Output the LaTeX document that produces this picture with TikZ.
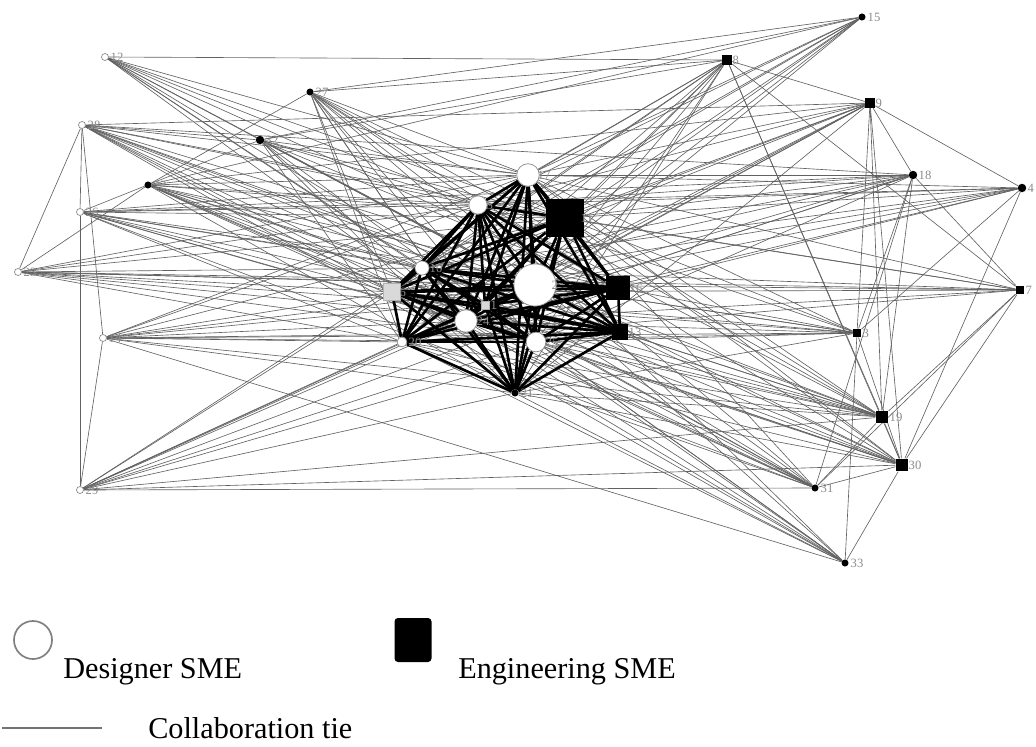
\documentclass[tikz,border=0pt]{standalone}
\usepackage{fontspec}
\setmainfont{Liberation Serif}
\pgfdeclarelayer{background}
\pgfsetlayers{background,main}
\begin{document}
\begin{tikzpicture}[x=0.025cm,y=-0.025cm,
  tie/.style={draw=black!62,line width=0.45pt},
  coretie/.style={draw=black,line width=1.9pt},
  designer/.style={circle,draw=black!45,fill=white,line width=0.5pt,inner sep=0pt,minimum size=#1},
  engineer/.style={rectangle,fill=black,inner sep=0pt,minimum size=#1},
  lightbox/.style={rectangle,fill=black!15,draw=black!30,inner sep=0pt,minimum size=#1},
  dot/.style={circle,fill=black,inner sep=0pt,minimum size=#1},
  lbl/.style={font=\fontsize{9}{10}\selectfont,text=black!45,inner sep=1pt},
  legendtext/.style={font=\fontsize{21.5}{26}\selectfont,inner sep=0pt,anchor=base west}]
\useasboundingbox (0,0) rectangle (1036,747);

% core actors
\node[designer=16] (n17) at (528,175) {};
\node[designer=13] (n5) at (478,205) {};
\node[engineer=27] (n11) at (565,218) {};
\node[designer=30] (n2) at (535,285) {};
\node[engineer=17] (n16) at (618,288) {};
\node[designer=10] (n10) at (422,268) {};
\node[lightbox=12] (n6) at (392,292) {};
\node[lightbox=6] (n1) at (485,305) {};
\node[designer=16] (n24) at (466,321) {};
\node[designer=7] (n20) at (402,342) {};
\node[engineer=11] (n13) at (620,332) {};
\node[designer=14] (n25) at (536,342) {};
\node[dot=5] (n21) at (515,393) {};

% peripheral actors
\node[designer=5] (n12) at (105,57) {};
\node[dot=5] (n27) at (310,92) {};
\node[designer=5] (n28) at (82,125) {};
\node[dot=6] (n32) at (260,140) {};
\node[dot=5] (n22) at (148,185) {};
\node[designer=5] (n26) at (80,212) {};
\node[designer=5] (n23) at (18,272) {};
\node[designer=5] (n14) at (103,338) {};
\node[designer=5] (n29) at (80,490) {};
\node[dot=5] (n15) at (862,17) {};
\node[engineer=7] (n8) at (727,60) {};
\node[engineer=7] (n9) at (870,103) {};
\node[dot=6] (n18) at (913,175) {};
\node[dot=6] (n4) at (1022,188) {};
\node[engineer=6] (n7) at (1020,290) {};
\node[engineer=6] (n3) at (857,333) {};
\node[engineer=9] (n19) at (882,417) {};
\node[engineer=9] (n30) at (902,465) {};
\node[dot=5] (n31) at (815,488) {};
\node[dot=5] (n33) at (845,563) {};

% actor labels
\foreach \n/\d in {17/8,11/14,16/10,13/7,25/8,24/9,10/6,20/5,21/4,5/7,2/15,6/6,1/4,
  12/4,27/4,28/4,32/4,22/4,26/4,23/4,14/4,29/4,15/4,8/4,9/4,18/4,4/4,7/4,3/4,19/6,30/5,31/4,33/4}
  \node[lbl,anchor=west] at ([xshift=\d*0.025cm]n\n.center) {\n};

\begin{pgfonlayer}{background}
% ties from peripheral actors to the core
\foreach \p/\cl in {
  12/{17,5,11,2,16,13,25,24,10},
  27/{17,5,11,2,16,13,25,24,20,6,21,1},
  28/{17,5,11,2,16,13,25,24,10,6},
  32/{17,5,11,2,16,13,25,24,21,20},
  22/{17,5,11,2,16,13,25,24,10,6,21},
  26/{17,5,11,2,16,13,25,24,10,6,20},
  23/{17,5,11,2,16,13,25,10,6,20},
  14/{17,5,11,2,16,13,25,24,6,20,21},
  29/{2,16,13,25,24,20,21,6,1,10},
  15/{17,5,11,2,10,6,24,20},
  8/{17,5,11,2,10,6,24,20,25,21},
  9/{17,5,11,2,10,6,24,20,1,21},
  18/{17,5,11,2,10,6,24,25,20},
  4/{17,5,11,2,10,6,24,16},
  7/{17,11,2,10,6,24,5,20},
  3/{17,5,11,2,10,6,24,20,25,21,16},
  19/{17,5,11,2,10,6,24,20,25,21,13,1},
  30/{17,5,11,2,10,6,24,20,25,21,13},
  31/{17,5,2,10,6,24,20,25,1},
  33/{5,2,10,6,24,20,25,21,1}}
  {\foreach \c in \cl {\draw[tie] (n\p) -- (n\c);}}

% ties among peripheral actors
\foreach \a/\b in {12/8,28/26,28/23,28/14,26/29,14/29,23/22,22/27,26/32,28/32,
  29/30,29/31,29/19,28/18,28/9,26/4,26/18,23/7,23/3,14/3,14/19,22/9,32/8,27/8,
  15/27,15/32,15/22,8/9,8/7,8/30,8/19,9/18,9/4,9/3,9/19,9/30,18/3,18/7,18/19,
  4/3,4/30,7/30,7/19,7/31,3/30,3/33,19/30,19/31,30/31,30/33,18/31,
  31/22,31/26,33/14,33/28,19/28,30/22,12/31,27/19}
  \draw[tie] (n\a) -- (n\b);

% dense ties inside the core
\def\corelist{17,5,11,2,16,10,6,1,24,20,13,25,21}
\foreach \a [count=\i] in \corelist {
  \foreach \b [count=\j] in \corelist {
    \ifnum\j>\i \draw[coretie] (n\a) -- (n\b); \fi
  }
}
\end{pgfonlayer}

% legend
\node[circle,draw=black!50,line width=1.2pt,minimum size=0.95cm,inner sep=0pt] (lgD) at (33,640) {};
\node[legendtext] (lgDt) at (63,678) {Designer SME};
\node[rectangle,rounded corners=2.5pt,fill=black,minimum width=0.925cm,minimum height=1.1cm,inner sep=0pt] (lgE) at (413,640) {};
\node[legendtext] (lgEt) at (458,678) {Engineering SME};
\coordinate (lgA) at (2,728);
\coordinate (lgB) at (102,728);
\draw[draw=black!55,line width=1.1pt] (lgA) -- (lgB);
\node[legendtext] (lgTt) at (148,738) {Collaboration tie};
\end{tikzpicture}
\end{document}
